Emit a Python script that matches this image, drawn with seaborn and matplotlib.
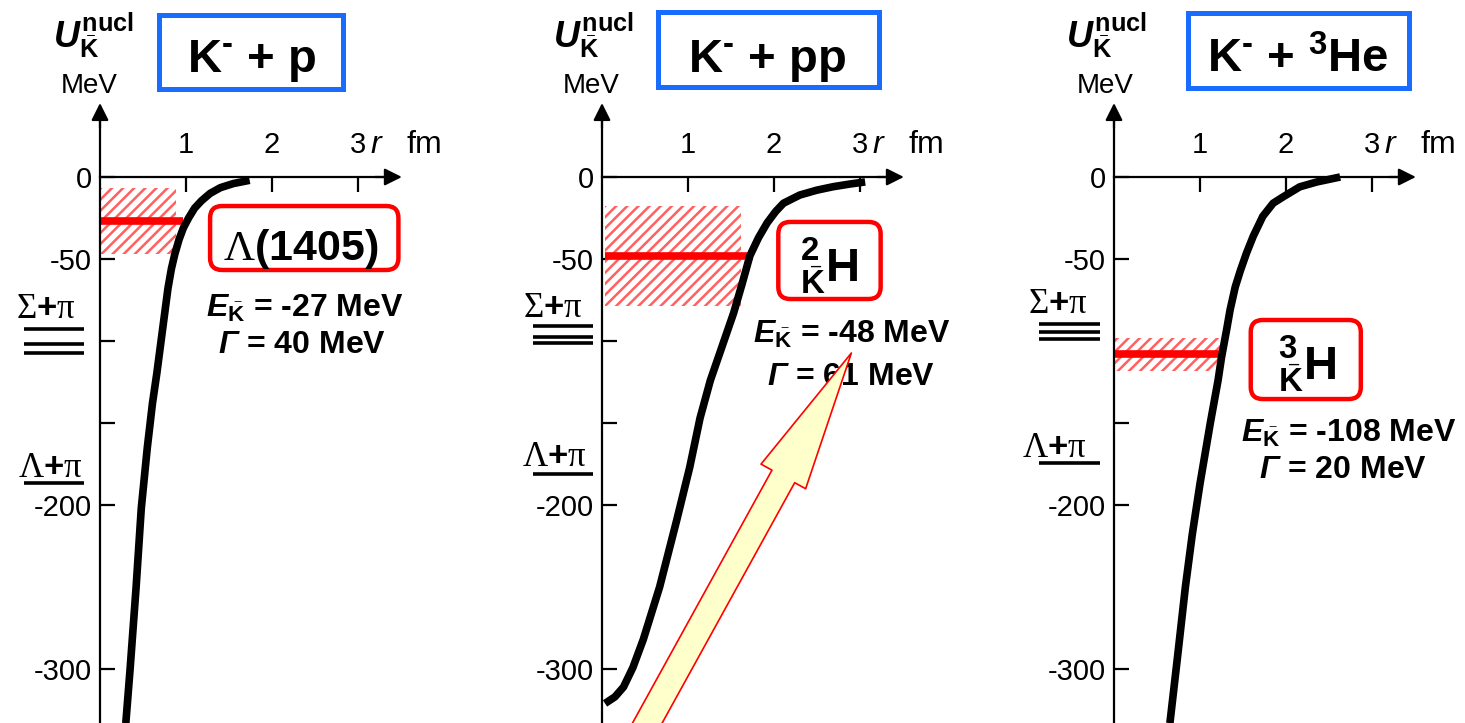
import matplotlib
matplotlib.use("Agg")
import matplotlib.pyplot as plt
import seaborn as sns
import pandas as pd
from matplotlib.patches import Rectangle, FancyBboxPatch, FancyArrowPatch

# ---------------------------------------------------------------- data
HY = "\u2010"  # short superscript dash
titles = ["K$^{\\mathbf{" + HY + "}}$ + p",
          "K$^{\\mathbf{" + HY + "}}$ + pp",
          "K$^{\\mathbf{" + HY + "}}$ + $^{\\mathbf{3}}$He"]

# Kbar-nucleus potential U(r) [fm, MeV]
r_kp = [0.30, 0.35, 0.42, 0.48, 0.55, 0.61, 0.66, 0.71, 0.75, 0.79, 0.83, 0.87,
        0.92, 0.97, 1.03, 1.10, 1.18, 1.28, 1.40, 1.55, 1.74]
U_kp = [-333, -300, -250, -202, -165, -138, -120, -100, -84, -68, -56, -47,
        -38, -31, -25, -19, -14.5, -10, -6.5, -4, -2]

r_kpp = [0.035, 0.15, 0.25, 0.36, 0.48, 0.67, 0.87, 1.02, 1.14, 1.26, 1.53,
         1.63, 1.72, 1.82, 1.92, 2.02, 2.11, 2.30, 2.50, 2.69, 2.88, 3.06]
U_kpp = [-321, -317, -311, -299, -282, -250, -209, -177, -147, -124, -83,
         -65, -48, -37, -28, -21, -16, -11, -8, -5.9, -4.3, -3]

r_k3he = [0.65, 0.74, 0.83, 0.91, 1.00, 1.12, 1.21, 1.25, 1.31, 1.35, 1.41,
          1.47, 1.54, 1.62, 1.73, 1.85, 1.97, 2.16, 2.36, 2.63]
U_k3he = [-333, -292, -250, -218, -187, -150, -124, -110, -93, -81, -67,
          -57, -46.5, -36, -24, -16, -12, -6, -3, 0]

curves = [(r_kp, U_kp), (r_kpp, U_kpp), (r_k3he, U_k3he)]

# bound states: binding energy and width [MeV]
E_bind = [-27, -48, -108]
Gamma = [40, 61, 20]
state_labels = [r"$\Lambda$(1405)",
                r"${}^{\mathbf{2}}_{\bar{\mathbf{K}}}\mathbf{H}$",
                r"${}^{\mathbf{3}}_{\bar{\mathbf{K}}}\mathbf{H}$"]
band_r = [(0.0, 0.88), (0.03, 1.62), (0.0, 1.23)]
level_r = [(0.0, 0.96), (0.03, 1.76), (0.0, 1.23)]

# decay thresholds [MeV]
sigma_pi_levels = [[-92.7, -101.8, -107.3], [-90.9, -97.6, -101.2], [-89.6, -94.5, -98.8]]
lambda_pi_level = [-186.6, -181.0, -174.4]

y_ticks = [0, -50, -100, -150, -200, -300]
y_ticklabels = ["0", "-50", "", "", "-200", "-300"]
x_ticks = [1, 2, 3]
x_ticklabels = ["1", "2", "3"]

# ---------------------------------------------------------------- style
sns.set_theme(style="white")
plt.rcParams["font.family"] = ["Liberation Sans", "DejaVu Sans"]
for key in ["text.color", "axes.labelcolor", "xtick.color", "ytick.color",
            "axes.edgecolor"]:
    plt.rcParams[key] = "black"
plt.rcParams["mathtext.fontset"] = "custom"
plt.rcParams["mathtext.rm"] = "Liberation Serif"
plt.rcParams["mathtext.it"] = "Liberation Sans:italic:bold"
plt.rcParams["mathtext.bf"] = "Liberation Sans:bold"
plt.rcParams["mathtext.sf"] = "Liberation Sans:italic:bold"
plt.rcParams["hatch.linewidth"] = 1.8

BLUE = "#1a6cff"
RED = "#ff0000"
HATCH = "#ff6060"

W, H = 1465, 723
PX_FM, PX_MEV, Y0 = 86.0, 1.64, 177.0
origins = [100, 602, 1114]
spans = [(0, 500), (502, 1010), (1012, 1465)]

# per-panel annotation layout (data units)
layout = [
    dict(ulab=-0.08, mev=-0.13, blue=(0.69, 53.7, 2.14, 45.1), title=(1.77, 64),
         rbox=(1.28, -56.7, 2.19, 39.0), slab=(2.33, -50.6, 31),
         Etxt=(2.38, -85.2), Gtxt=(2.35, -107.5),
         sig=(-0.63, -86.0), lam=(-0.58, -183.0), lines=(-0.88, -0.19)),
    dict(ulab=-0.10, mev=-0.12, blue=(0.65, 54.9, 2.57, 45.7), title=(1.92, 64),
         rbox=(2.05, -74.4, 1.19, 47.0), slab=(2.64, -63.8, 34),
         Etxt=(2.90, -101.4), Gtxt=(2.90, -126.8),
         sig=(-0.57, -85.4), lam=(-0.55, -176.0), lines=(-0.80, -0.10)),
    dict(ulab=-0.09, mev=-0.10, blue=(0.86, 54.3, 2.57, 45.7), title=(2.14, 64),
         rbox=(1.59, -135.4, 1.28, 48.2), slab=(2.25, -123.8, 34),
         Etxt=(2.73, -161.4), Gtxt=(2.66, -183.7),
         sig=(-0.65, -82.9), lam=(-0.70, -170.7), lines=(-0.87, -0.16)),
]

fig = plt.figure(figsize=(W / 100, H / 100), dpi=100)

for i in range(3):
    ox = origins[i]
    x0, x1 = spans[i]
    ax = fig.add_axes([x0 / W, 0, (x1 - x0) / W, 1])
    ax.set_facecolor("none")
    ax.set_xlim((x0 - ox) / PX_FM, (x1 - ox) / PX_FM)
    ylo, yhi = -(H - Y0) / PX_MEV, Y0 / PX_MEV
    ax.set_ylim(ylo, yhi)
    L = layout[i]

    # axes through the origin with arrow heads
    ax.spines["right"].set_visible(False)
    ax.spines["left"].set_position(("data", 0))
    ax.spines["bottom"].set_position(("data", 0))
    ax.spines["top"].set_position(("data", 0))
    ax.spines["top"].set_color("none")
    ax.spines["left"].set_bounds(ylo - 5, 40)
    ax.spines["bottom"].set_bounds(0, 3.3)
    for s in ["left", "bottom"]:
        ax.spines[s].set_linewidth(1.6)
        ax.spines[s].set_color("black")
    ax.annotate("", xy=(0, 45.1), xytext=(0, 30),
                arrowprops=dict(arrowstyle="-|>", color="black", lw=1.6,
                                mutation_scale=26, shrinkA=0, shrinkB=0))
    ax.annotate("", xy=(3.51, 0), xytext=(3.2, 0),
                arrowprops=dict(arrowstyle="-|>", color="black", lw=1.6,
                                mutation_scale=26, shrinkA=0, shrinkB=0))

    ax.set_yticks(y_ticks)
    ax.set_yticklabels(y_ticklabels)
    ax.tick_params(axis="y", left=True, right=False, direction="in", length=11,
                   width=1.6, labelsize=21, pad=6, colors="black")
    ax.set_xticks(x_ticks)
    ax.set_xticklabels(x_ticklabels)
    ax.tick_params(axis="x", top=True, bottom=False, labeltop=True, labelbottom=False,
                   direction="in", length=11, width=1.6, labelsize=21, pad=13,
                   colors="black")
    ax.grid(False)

    # bound state: width band and level
    E, G = E_bind[i], Gamma[i]
    ax.fill_between(list(band_r[i]), E - G / 2, E + G / 2, facecolor="white",
                    edgecolor=HATCH, hatch="///", linewidth=0, zorder=1)
    ax.hlines(E, level_r[i][0], level_r[i][1], color=RED, lw=5.5, zorder=2)

    # potential curve
    df = pd.DataFrame({"r": curves[i][0], "U": curves[i][1]})
    sns.lineplot(data=df, x="r", y="U", ax=ax, color="black", lw=5.5,
                 sort=False, estimator=None, zorder=3)
    for ln in ax.lines:
        ln.set_solid_capstyle("butt")
        ln.set_solid_joinstyle("round")
    ax.set_xlabel("")
    ax.set_ylabel("")

    # axis labels
    ax.text(L["ulab"], 86.6, r"$U^{\mathbf{nucl}}_{\bar{\mathbf{K}}}$", ha="center",
            va="center", fontsize=26)
    ax.text(L["mev"], 55.5, "MeV", ha="center", va="center", fontsize=20)
    ax.text(3.21, 19.5, "r", ha="center", va="center", fontsize=23,
            fontstyle="italic")
    ax.text(3.77, 19.5, "fm", ha="center", va="center", fontsize=23)

    # system title in a blue frame
    bx, by, bw, bh = L["blue"]
    ax.add_patch(Rectangle((bx, by), bw, bh, fill=False, edgecolor=BLUE, lw=3.6,
                           clip_on=False))
    ax.text(L["title"][0], L["title"][1], titles[i], ha="center", va="baseline",
            fontsize=34, fontweight="bold")

    # bound state label in a rounded red frame
    rx, ry, rw, rh = L["rbox"]
    ax.add_patch(FancyBboxPatch((rx, ry), rw, rh,
                                boxstyle="round,pad=0,rounding_size=0.14",
                                mutation_aspect=PX_FM / PX_MEV, fill=False,
                                edgecolor=RED, lw=3.2, clip_on=False, zorder=4))
    sx, sy, sfs = L["slab"]
    ax.text(sx, sy, state_labels[i], ha="center", va="baseline", fontsize=sfs,
            fontweight="bold", zorder=4)
    ax.text(L["Etxt"][0], L["Etxt"][1], rf"$E_{{\bar{{\mathbf{{K}}}}}}$ = {E} MeV",
            ha="center", va="baseline", fontsize=23, fontweight="bold")
    ax.text(L["Gtxt"][0], L["Gtxt"][1], rf"$\mathsf{{\Gamma}}$ = {G} MeV",
            ha="center", va="baseline", fontsize=23, fontweight="bold")

    # decay thresholds
    lx0, lx1 = L["lines"]
    ax.text(L["sig"][0], L["sig"][1], r"$\Sigma$+$\mathrm{\pi}$", ha="center",
            va="baseline", fontsize=25, fontweight="bold")
    for lev in sigma_pi_levels[i]:
        ax.hlines(lev, lx0, lx1, color="black", lw=2.6, clip_on=False)
    ax.text(L["lam"][0], L["lam"][1], r"$\Lambda$+$\mathrm{\pi}$", ha="center",
            va="baseline", fontsize=25, fontweight="bold")
    ax.hlines(lambda_pi_level[i], lx0, lx1, color="black", lw=2.6, clip_on=False)

    if i == 1:
        ax.add_patch(FancyArrowPatch(
            (0.29, -355.5), (2.90, -107.3),
            arrowstyle="simple,tail_width=18.7,head_width=36.7,head_length=101.5",
            mutation_scale=1, facecolor="#ffffcc", edgecolor=RED, lw=1.2,
            shrinkA=0, shrinkB=0, zorder=6))

fig.savefig("out.png", dpi=100)
